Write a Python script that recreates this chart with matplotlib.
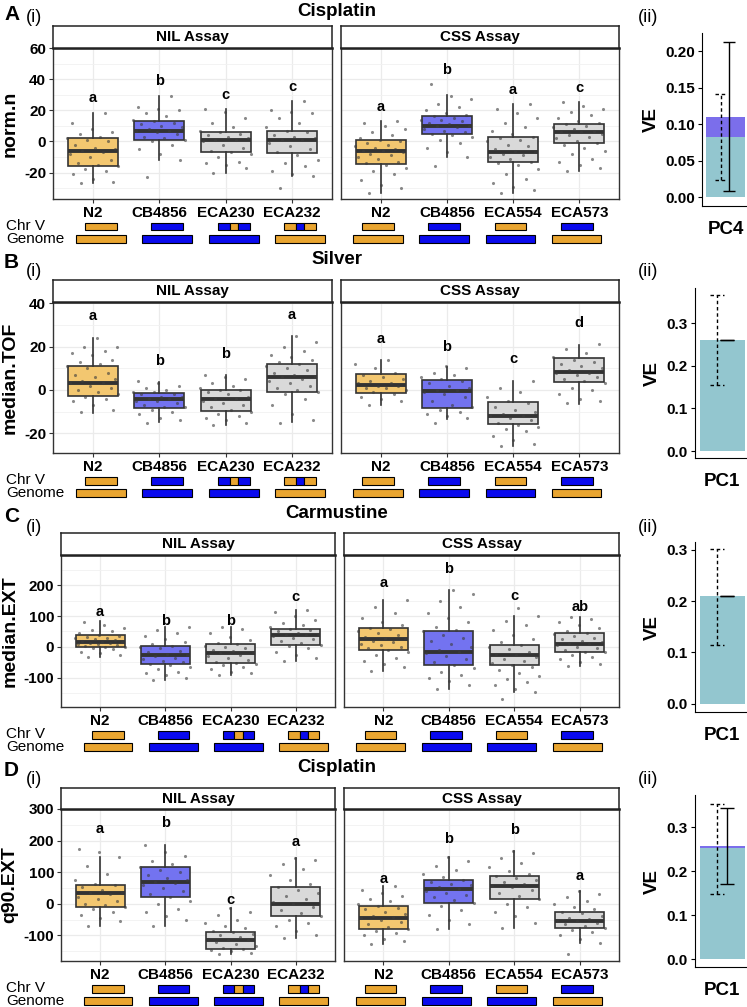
import matplotlib
matplotlib.use('Agg')
import matplotlib.pyplot as plt
import matplotlib.transforms as mtransforms
from matplotlib.patches import Rectangle
import numpy as np

plt.rcParams['font.family'] = ['Liberation Sans', 'DejaVu Sans']

# strains and genotype bars
nil_strains = ['N2', 'CB4856', 'ECA230', 'ECA232']
css_strains = ['N2', 'CB4856', 'ECA554', 'ECA573']
chrv_pattern = {'N2': 'O', 'CB4856': 'B', 'ECA230': 'BOB', 'ECA232': 'OBO', 'ECA554': 'O', 'ECA573': 'B'}
genome_pattern = {'N2': 'O', 'CB4856': 'B', 'ECA230': 'B', 'ECA232': 'O', 'ECA554': 'B', 'ECA573': 'O'}

traits = ['Cisplatin', 'Silver', 'Carmustine', 'Cisplatin']
trait_ylabels = ['norm.n', 'median.TOF', 'median.EXT', 'q90.EXT']
panel_letters = ['A', 'B', 'C', 'D']
pc_names = ['PC4', 'PC1', 'PC1', 'PC1']

# box stats: (whisker low, q1, median, q3, whisker high)
a_nil_box = [(-27, -15.5, -6, 2, 18), (-12, 1, 7, 13, 29), (-20, -7, 1, 6, 21), (-22, -7.5, 1, 6.5, 26)]
a_css_box = [(-33, -14.4, -6, 1, 13), (-10, 5, 10, 16, 29.5), (-33, -13.5, -7, 3, 24), (-19, -1, 6, 11, 25)]
b_nil_box = [(-10.5, -2.8, 3, 11, 24), (-14.6, -8.2, -4, -1.2, 3.8), (-16, -9.7, -4.2, 0, 7), (-14.6, -0.8, 6.2, 12, 25)]
b_css_box = [(-7, -1.5, 2.3, 7.4, 14), (-13.4, -8.2, -0.3, 4.6, 10.5), (-26, -15.8, -12, -5.4, 4), (-6.6, 3.8, 8.3, 14.6, 20.6)]
c_nil_box = [(-34, -2, 15, 40, 84), (-107, -56, -26, 3, 64), (-92, -52, -19, 8, 64), (-45, 7, 40, 59, 120)]
c_css_box = [(-78, -10, 25, 61, 152), (-138, -59, -15, 53, 186), (-145, -60, -27, 7, 100), (-62, -15, 9, 45, 97)]
d_nil_box = [(-71, -11, 33, 60, 147), (-69, 20, 70, 117, 186), (-160, -144, -113, -89, -13), (-108, -39, -2, 54, 144)]
d_css_box = [(-128, -79, -46, -6, 57), (-80, 4, 47, 76, 148), (-77, 15, 57, 87, 168), (-125, -75, -56, -26, 42)]

# individual strain values
a_nil_pts = [
    [-27, -26, -24, -21, -19, -18, -16, -15, -14, -12, -10, -8, -7, -6, -5, -4, -2, 0, 1, 2, 3, 5, 6, 8, 12, 18],
    [-23, -12, -8, -5, -2, 0, 1, 2, 3, 5, 6, 7, 7, 8, 9, 10, 11, 12, 13, 14, 16, 18, 20, 21, 22, 29],
    [-20, -17, -15, -14, -13, -10, -8, -7, -6, -4, -2, 0, 1, 1, 2, 3, 4, 5, 6, 7, 9, 12, 15, 19, 21],
    [-30, -22, -21, -19, -16, -14, -12, -9, -7, -5, -3, -1, 1, 1, 2, 3, 4, 6, 7, 9, 12, 15, 18, 19, 20, 26]]
a_css_pts = [
    [-33, -30, -28, -25, -21, -19, -17, -15, -14, -13, -11, -10, -9, -8, -7, -6, -6, -5, -4, -3, -2, -1, 0, 1, 2, 4, 6, 8, 10, 12, 13],
    [-16, -10, -7, -4, -1, 1, 3, 4, 5, 6, 7, 8, 9, 10, 10, 11, 12, 13, 14, 14, 15, 16, 17, 18, 20, 22, 24, 27, 29, 37],
    [-33, -31, -29, -27, -24, -21, -18, -15, -14, -13, -11, -10, -9, -8, -7, -6, -5, -3, -2, 0, 1, 2, 3, 5, 7, 9, 12, 15, 18, 21, 24],
    [-19, -17, -15, -13, -11, -8, -6, -4, -2, -1, 0, 2, 3, 4, 5, 6, 6, 7, 8, 9, 10, 11, 12, 13, 15, 17, 19, 21, 23, 25]]
b_nil_pts = [
    [-10, -9, -7, -5, -4, -3, -2, -1, 0, 1, 2, 3, 3, 4, 5, 6, 7, 8, 10, 11, 12, 13, 14, 16, 17, 18, 20, 20, 24],
    [-15, -14, -13, -11, -10, -9, -8, -8, -7, -6, -5, -5, -4, -4, -3, -3, -2, -2, -1, -1, 0, 1, 2, 3, 4],
    [-16, -15, -14, -13, -12, -11, -10, -9, -8, -7, -6, -5, -4, -4, -3, -2, -1, 0, 0, 1, 2, 3, 5, 6, 7],
    [-15, -14, -11, -7, -4, -2, -1, 0, 1, 2, 3, 4, 5, 6, 6, 7, 8, 9, 10, 11, 12, 13, 14, 15, 16, 18, 20, 22, 25]]
b_css_pts = [
    [-7, -5, -4, -3, -2, -1, 0, 1, 1, 2, 2, 3, 3, 4, 5, 6, 7, 8, 10, 12, 14],
    [-15, -13, -12, -11, -10, -9, -8, -7, -5, -3, -2, -1, 0, 0, 1, 2, 3, 4, 5, 6, 7, 8, 10, 11],
    [-26, -25, -23, -21, -19, -18, -17, -16, -15, -14, -13, -12, -12, -11, -10, -9, -8, -6, -5, -3, -1, 1, 4],
    [-6, -5, -4, -2, 0, 1, 3, 4, 5, 6, 7, 8, 8, 9, 10, 11, 12, 13, 14, 15, 17, 19, 21]]
c_nil_pts = [
    [-34, -25, -20, -15, -8, -4, -2, 0, 2, 5, 8, 10, 12, 14, 15, 17, 20, 22, 25, 28, 30, 33, 36, 40, 45, 50, 55, 62, 70, 80],
    [-107, -100, -92, -85, -80, -72, -66, -60, -56, -50, -45, -40, -35, -30, -26, -22, -18, -12, -5, 0, 3, 8, 15, 25, 35, 45, 55, 64],
    [-92, -86, -80, -72, -65, -60, -55, -52, -48, -42, -36, -30, -25, -20, -18, -14, -10, -5, 0, 4, 8, 14, 22, 32, 45, 58, 64],
    [-45, -35, -25, -15, -5, 2, 7, 12, 18, 24, 30, 35, 38, 40, 42, 46, 50, 55, 59, 64, 70, 78, 88, 100, 112, 120]]
c_css_pts = [
    [-78, -65, -55, -45, -35, -25, -15, -10, -5, 0, 5, 10, 15, 20, 25, 28, 32, 38, 45, 52, 58, 61, 70, 80, 95, 110, 130, 152],
    [-138, -125, -110, -100, -90, -80, -70, -59, -50, -40, -30, -20, -15, -10, 0, 10, 20, 30, 40, 50, 55, 65, 80, 95, 110, 130, 150, 170, 186],
    [-170, -145, -135, -125, -115, -105, -95, -85, -75, -65, -60, -52, -45, -38, -32, -27, -22, -15, -8, 0, 7, 15, 25, 40, 55, 70, 85, 100, 125],
    [-62, -55, -48, -40, -32, -25, -18, -15, -10, -5, 0, 5, 9, 12, 16, 20, 25, 30, 36, 42, 45, 52, 60, 70, 80, 90, 97]]
d_nil_pts = [
    [-71, -55, -45, -35, -25, -15, -10, -5, 0, 8, 15, 22, 30, 33, 38, 45, 52, 58, 62, 75, 95, 120, 147, 165, 172],
    [-69, -50, -40, -25, -15, 0, 10, 20, 30, 40, 50, 58, 65, 70, 75, 82, 90, 100, 108, 117, 125, 135, 150, 165, 186],
    [-160, -155, -150, -147, -144, -140, -135, -128, -120, -115, -113, -110, -105, -100, -95, -90, -85, -78, -70, -60, -50, -35, -25, -13],
    [-108, -100, -85, -70, -60, -50, -40, -30, -20, -10, -2, 5, 15, 25, 35, 45, 54, 62, 75, 90, 110, 125, 138, 144]]
d_css_pts = [
    [-128, -118, -110, -100, -92, -85, -79, -72, -65, -58, -52, -46, -42, -38, -32, -25, -18, -12, -6, 0, 8, 15, 25, 35, 45, 57],
    [-80, -65, -50, -35, -20, -8, 4, 12, 20, 28, 35, 42, 47, 52, 58, 64, 70, 76, 85, 95, 108, 120, 135, 148],
    [-77, -60, -40, -25, -10, 0, 15, 25, 35, 45, 52, 57, 62, 68, 75, 82, 87, 95, 105, 118, 130, 145, 160, 168],
    [-160, -125, -110, -100, -90, -82, -75, -70, -65, -60, -56, -52, -48, -44, -38, -30, -26, -18, -10, 0, 10, 20, 30, 42]]

# significance letters and their heights
a_nil_sig, a_nil_sig_y = ['a', 'b', 'c', 'c'], [28, 38.5, 30, 35]
a_css_sig, a_css_sig_y = ['a', 'b', 'a', 'c'], [22, 46, 33, 34]
b_nil_sig, b_nil_sig_y = ['a', 'b', 'b', 'a'], [34, 13.5, 16.5, 34.3]
b_css_sig, b_css_sig_y = ['a', 'b', 'c', 'd'], [23.3, 20, 14.2, 30.7]
c_nil_sig, c_nil_sig_y = ['a', 'b', 'b', 'c'], [114, 85, 85, 163]
c_css_sig, c_css_sig_y = ['a', 'b', 'c', 'ab'], [208, 254, 166, 130]
d_nil_sig, d_nil_sig_y = ['a', 'b', 'c', 'a'], [238, 257, 13, 197]
d_css_sig, d_css_sig_y = ['a', 'b', 'b', 'a'], [79, 206, 232, 89]

# variance explained
ve_teal = [0.083, 0.26, 0.21, 0.252]
ve_purple = [0.027, 0.0, 0.0, 0.005]
ve_dash_err = [(0.023, 0.142), (0.155, 0.365), (0.115, 0.302), (0.148, 0.352)]
ve_solid_err = [(0.008, 0.212), (0.26, 0.26), (0.21, 0.21), (0.17, 0.343)]

rows = [
    dict(nil=(a_nil_box, a_nil_pts, a_nil_sig, a_nil_sig_y), css=(a_css_box, a_css_pts, a_css_sig, a_css_sig_y),
         ylim=(-37, 60), yt=[-20, 0, 20, 40, 60], ym=[-30, -10, 10, 30, 50],
         strip=26, top=48, bot=199, nilx=(53, 332), cssx=(341, 619),
         ve=(702, 33, 747, 206), vylim=(-0.012, 0.225), vt=[0, 0.05, 0.1, 0.15, 0.2], vfmt='%.2f',
         head=14, sub=18),
    dict(nil=(b_nil_box, b_nil_pts, b_nil_sig, b_nil_sig_y), css=(b_css_box, b_css_pts, b_css_sig, b_css_sig_y),
         ylim=(-29, 40.5), yt=[-20, 0, 20, 40], ym=[-10, 10, 30],
         strip=280, top=302, bot=453, nilx=(53, 332), cssx=(341, 619),
         ve=(695, 288, 747, 458), vylim=(-0.016, 0.382), vt=[0, 0.1, 0.2, 0.3], vfmt='%.1f',
         head=262, sub=272),
    dict(nil=(c_nil_box, c_nil_pts, c_nil_sig, c_nil_sig_y), css=(c_css_box, c_css_pts, c_css_sig, c_css_sig_y),
         ylim=(-195, 298), yt=[-100, 0, 100, 200], ym=[-150, -50, 50, 150, 250],
         strip=533, top=555, bot=707, nilx=(61, 335), cssx=(344, 619),
         ve=(695, 542, 747, 712), vylim=(-0.016, 0.315), vt=[0, 0.1, 0.2, 0.3], vfmt='%.1f',
         head=516, sub=527),
    dict(nil=(d_nil_box, d_nil_pts, d_nil_sig, d_nil_sig_y), css=(d_css_box, d_css_pts, d_css_sig, d_css_sig_y),
         ylim=(-181, 300), yt=[-100, 0, 100, 200, 300], ym=[-150, -50, 50, 150, 250],
         strip=788, top=809, bot=961, nilx=(61, 335), cssx=(344, 619),
         ve=(695, 795, 747, 967), vylim=(-0.018, 0.373), vt=[0, 0.1, 0.2, 0.3], vfmt='%.1f',
         head=770, sub=780),
]

W, H = 747, 1007
fig = plt.figure(figsize=(W / 100, H / 100), dpi=100)

def px(x0, y0, x1, y1):
    return [x0 / W, 1 - y1 / H, (x1 - x0) / W, (y1 - y0) / H]

box_fill = {'N2': '#F3C770', 'CB4856': '#7373F0'}
bar_col = {'O': '#E9A530', 'B': '#0A0AEE'}
edge = '#333333'


def assay_panel(ax, strains, data, r, show_y):
    stats, pts, sig, sig_y = data
    xs = np.arange(1, len(strains) + 1)
    bstats = [dict(whislo=s[0], q1=s[1], med=s[2], q3=s[3], whishi=s[4]) for s in stats]
    parts = ax.bxp(bstats, positions=xs, widths=0.75, patch_artist=True, showfliers=False,
                   showcaps=False, boxprops=dict(edgecolor=edge, linewidth=1.2),
                   medianprops=dict(color='#333333', linewidth=2.8, solid_capstyle='butt'),
                   whiskerprops=dict(color=edge, linewidth=1.2))
    for patch, s in zip(parts['boxes'], strains):
        patch.set_facecolor(box_fill.get(s, '#D9D9D9'))
    for x, vals in zip(xs, pts):
        k = np.arange(len(vals))
        off = ((k * 0.618034 + 0.27) % 1.0 - 0.5) * 0.8
        ax.scatter(x + off, vals, s=5, color='#3c3c3c', alpha=0.6, linewidths=0, zorder=3)
    for x, t, y in zip(xs, sig, sig_y):
        ax.text(x, y, t, ha='center', va='center', fontsize=10.5, fontweight='bold')
    ax.set_xlim(0.4, 4.6)
    ax.set_ylim(*r['ylim'])
    ax.set_xticks(xs)
    ax.set_xticklabels(strains, fontsize=11, fontweight='bold')
    ax.set_yticks(r['yt'])
    ax.set_yticks(r['ym'], minor=True)
    ax.grid(which='major', color='#EBEBEB', linewidth=0.9)
    ax.grid(which='minor', axis='y', color='#F1F1F1', linewidth=0.6)
    ax.set_axisbelow(True)
    ax.tick_params(which='major', length=3, color='#333333', pad=2)
    ax.tick_params(which='minor', length=0)
    if show_y:
        ax.set_yticklabels([str(v) for v in r['yt']], fontsize=11, fontweight='bold')
    else:
        ax.tick_params(axis='y', length=0, labelleft=False)
    for sp in ax.spines.values():
        sp.set_color('#333333')
        sp.set_linewidth(1.0)


def strip(x0, x1, r, label):
    ax = fig.add_axes(px(x0, r['strip'], x1, r['top']))
    ax.set_xticks([])
    ax.set_yticks([])
    ax.text(0.5, 0.5, label, ha='center', va='center', fontsize=11, fontweight='bold', transform=ax.transAxes)
    for sp in ax.spines.values():
        sp.set_color('#222222')
        sp.set_linewidth(1.1)
    ax.spines['bottom'].set_linewidth(1.8)


def genotype_bars(x0, x1, r, strains, shift, row_labels):
    ax = fig.add_axes(px(x0, r['bot'] + 20, x1, r['bot'] + 47.5))
    ax.set_xlim(0.4, 4.6)
    ax.set_ylim(1.6, -0.6)
    ax.axis('off')
    for i, s in enumerate(strains):
        for row, (pat, width) in enumerate([(chrv_pattern[s], 0.48), (genome_pattern[s], 0.75)]):
            fracs = [1.0] if len(pat) == 1 else [0.37, 0.26, 0.37]
            left = i + 1 + shift - width / 2
            for c, f in zip(pat, fracs):
                ax.add_patch(Rectangle((left, row - 0.32), width * f, 0.64,
                                       facecolor=bar_col[c], edgecolor='black', linewidth=0.8))
                left += width * f
    if row_labels:
        tr = mtransforms.blended_transform_factory(fig.transFigure, ax.transData)
        ax.text(6 / W, 0, 'Chr V', transform=tr, ha='left', va='center', fontsize=11)
        ax.text(6 / W, 1, 'Genome', transform=tr, ha='left', va='center', fontsize=11)


for i, r in enumerate(rows):
    ax_n = fig.add_axes(px(r['nilx'][0], r['top'], r['nilx'][1], r['bot']))
    assay_panel(ax_n, nil_strains, r['nil'], r, True)
    ax_c = fig.add_axes(px(r['cssx'][0], r['top'], r['cssx'][1], r['bot']))
    assay_panel(ax_c, css_strains, r['css'], r, False)
    strip(r['nilx'][0], r['nilx'][1], r, 'NIL Assay')
    strip(r['cssx'][0], r['cssx'][1], r, 'CSS Assay')
    genotype_bars(r['nilx'][0], r['nilx'][1], r, nil_strains, 0.12, True)
    genotype_bars(r['cssx'][0], r['cssx'][1], r, css_strains, -0.04, False)

    fig.text(10 / W, 1 - (r['top'] + r['bot']) / 2 / H, trait_ylabels[i], rotation=90,
             ha='center', va='center', fontsize=14, fontweight='bold')
    fig.text(4 / W, 1 - r['head'] / H, panel_letters[i], ha='left', va='center', fontsize=15, fontweight='bold')
    fig.text(26 / W, 1 - r['sub'] / H, '(i)', ha='left', va='center', fontsize=13)
    fig.text(337 / W, 1 - (r['head'] - 3) / H, traits[i], ha='center', va='center', fontsize=13.5, fontweight='bold')
    fig.text(638 / W, 1 - r['sub'] / H, '(ii)', ha='left', va='center', fontsize=13)

    # variance explained panel
    axv = fig.add_axes(px(*r['ve']))
    axv.bar(1, ve_teal[i], width=0.9, color='#93C6CF')
    if ve_purple[i] > 0:
        axv.bar(1, ve_purple[i], bottom=ve_teal[i], width=0.9, color='#7B6EEB')
    dx = 1 - 0.11
    lo, hi = ve_dash_err[i]
    axv.vlines(dx, lo, hi, colors='black', linestyles=(0, (2.5, 2)), linewidth=1)
    axv.hlines([lo, hi], dx - 0.14, dx + 0.14, colors='black', linestyles=(0, (2.5, 2)), linewidth=1)
    sx = 1 + 0.09
    lo, hi = ve_solid_err[i]
    axv.vlines(sx, lo, hi, colors='black', linewidth=1)
    axv.hlines([lo, hi], sx - 0.14, sx + 0.14, colors='black', linewidth=1)
    axv.set_xlim(0.45, 1.5)
    axv.set_ylim(*r['vylim'])
    axv.set_yticks(r['vt'])
    axv.set_yticklabels([r['vfmt'] % v for v in r['vt']], fontsize=11, fontweight='bold')
    axv.set_xticks([1])
    axv.set_xticklabels([pc_names[i]], fontsize=13.5, fontweight='bold')
    axv.tick_params(axis='x', length=0, pad=11)
    axv.tick_params(axis='y', length=3, pad=2)
    axv.spines['top'].set_visible(False)
    axv.spines['right'].set_visible(False)
    axv.set_ylabel('VE', fontsize=13.5, fontweight='bold', labelpad=4)

fig.savefig('out.png', dpi=100)
